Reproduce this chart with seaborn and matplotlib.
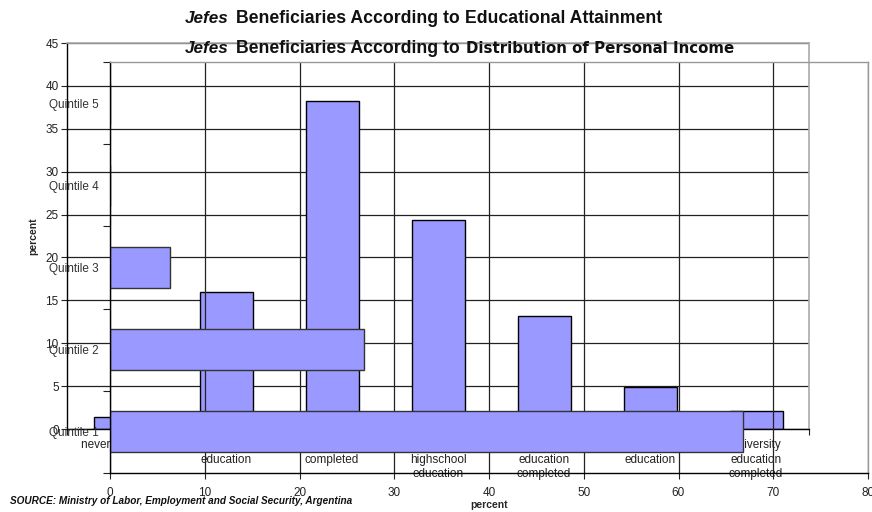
import matplotlib
matplotlib.use("Agg")
import matplotlib.pyplot as plt
import seaborn as sns
import numpy as np
import pandas as pd
from matplotlib.ticker import MultipleLocator, FixedLocator

sns.set_theme(style="white")
plt.rcParams['font.family'] = ['Liberation Sans', 'DejaVu Sans']

# --- data ---
edu_categories = ["never attended",
                  "incomplete primary\neducation",
                  "primary education\ncompleted",
                  "incomplete\nhighschool\neducation",
                  "highschool\neducation\ncompleted",
                  "incomplete university\neducation",
                  "university\neducation\ncompleted"]
edu_values = [1.4, 16.0, 38.2, 24.4, 13.2, 4.9, 2.1]

quintiles = ["Quintile 5", "Quintile 4", "Quintile 3", "Quintile 2", "Quintile 1"]
quintile_values = [0.0, 0.0, 6.3, 26.8, 66.8]

title_lead = "Jefes"
title_common = "Beneficiaries According to"
title_edu_tail = "Educational Attainment"
title_inc_tail = "Distribution of Personal Income"
source = "SOURCE: Ministry of Labor, Employment and Social Security, Argentina"

bar_color = "#9999FF"
W, H = 872, 512
fig = plt.figure(figsize=(W / 100, H / 100), dpi=100)
fig.patch.set_facecolor("white")

def rect(l, r, t, b):
    return [l / W, (H - b) / H, (r - l) / W, (b - t) / H]

# --- axes 1: educational attainment (vertical bars) ---
ax1 = fig.add_axes(rect(67, 809, 43, 429))
df1 = pd.DataFrame({"cat": edu_categories, "val": edu_values})
sns.barplot(data=df1, x="cat", y="val", ax=ax1, color=bar_color,
            edgecolor="black", linewidth=1.0, width=0.5, saturation=1)
ax1.set_xlim(-0.5, len(edu_categories) - 0.5)
ax1.set_ylim(0, 45)
ax1.yaxis.set_major_locator(MultipleLocator(5))
ax1.set_axisbelow(True)
ax1.grid(axis="y", color="#222222", linewidth=0.9)
ax1.grid(axis="x", visible=False)
ax1.set_xlabel("")
ax1.set_ylabel("percent", fontsize=7.5, fontweight="bold", labelpad=5)
ax1.tick_params(axis="y", labelsize=8.5, length=4, width=0.8, pad=2, left=True, colors="#222222")
ax1.tick_params(axis="x", labelsize=8.5, length=0, pad=7.5, colors="#222222")
ax1.xaxis.set_minor_locator(FixedLocator(np.arange(-0.5, len(edu_categories), 1.0)))
ax1.tick_params(axis="x", which="minor", length=4, width=0.8, bottom=True, color="#222222")
for lbl in ax1.get_xticklabels():
    lbl.set_linespacing(1.27)
    lbl.set_va("top")
for side in ["left", "bottom"]:
    ax1.spines[side].set_color("black")
    ax1.spines[side].set_linewidth(1.0)
for side in ["top", "right"]:
    ax1.spines[side].set_color("#aaaaaa")
    ax1.spines[side].set_linewidth(1.2)

# --- axes 2: distribution of personal income (horizontal bars) ---
ax2 = fig.add_axes(rect(110, 868, 62, 473))
ax2.patch.set_alpha(0)
df2 = pd.DataFrame({"q": quintiles, "val": quintile_values})
sns.barplot(data=df2, x="val", y="q", orient="h", ax=ax2, color=bar_color,
            edgecolor="#333333", linewidth=1.0, width=0.5, saturation=1)
ax2.set_xlim(0, 80)
ax2.set_ylim(len(quintiles) - 0.5, -0.5)
ax2.xaxis.set_major_locator(MultipleLocator(10))
ax2.set_axisbelow(True)
ax2.grid(axis="x", color="#222222", linewidth=0.9)
ax2.grid(axis="y", visible=False)
ax2.set_ylabel("")
ax2.set_xlabel("percent", fontsize=7.5, fontweight="bold", labelpad=1)
ax2.tick_params(axis="x", labelsize=8.5, length=4, width=0.8, pad=6, bottom=True, colors="#222222")
ax2.tick_params(axis="y", labelsize=8.5, length=0, pad=8, colors="#333333")
ax2.yaxis.set_minor_locator(FixedLocator(np.arange(-0.5, len(quintiles), 1.0)))
ax2.tick_params(axis="y", which="minor", length=5, width=0.8, left=True, color="#222222")
for side in ["left", "bottom"]:
    ax2.spines[side].set_color("black")
    ax2.spines[side].set_linewidth(1.0)
for side in ["top", "right"]:
    ax2.spines[side].set_color("#999999")
    ax2.spines[side].set_linewidth(1.0)

# --- titles (pieces placed on a shared baseline) ---
fig.canvas.draw()
renderer = fig.canvas.get_renderer()

def piece(x_px, base_px, s, size, right_px=None, family=None, **kw):
    t = fig.text(x_px / W, 1 - base_px / H, s, fontsize=size, fontweight="bold",
                 ha="left", va="baseline", color="#111111", **kw)
    if family:
        t.set_family(family)
    if right_px is not None:
        w = t.get_window_extent(renderer).width
        t.set_fontsize(size * (right_px - x_px) / w)
    return t

size = 12.3
for base, tail, tail_start, tail_end, fam in [
        (23, title_edu_tail, 465, None, None),
        (53, title_inc_tail, 466, 737, ["DejaVu Sans"])]:
    piece(185, base, title_lead, size, style="italic")
    common = piece(236, base, title_common, size, right_px=460)
    if fam is None:
        piece(tail_start, base, tail, common.get_fontsize())
    else:
        piece(tail_start, base, tail, 10.5, right_px=tail_end, family=fam)

fig.text(10 / W, 1 - 501 / H, source, fontsize=7.2, fontweight="bold",
         style="italic", ha="left", va="center", color="#111111")

fig.savefig("out.png", dpi=100)
